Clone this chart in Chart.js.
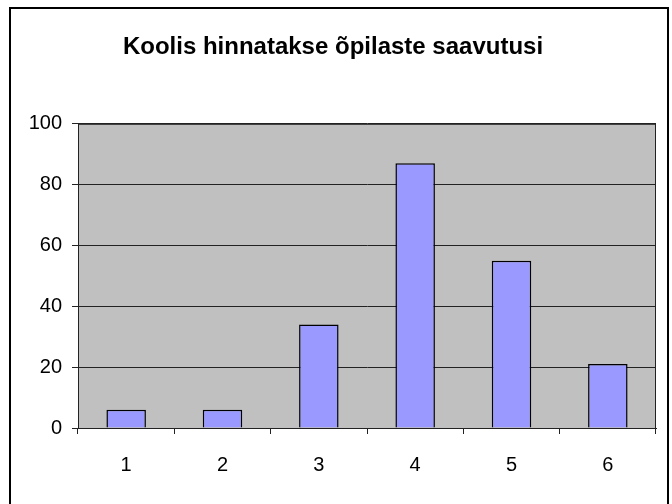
<!DOCTYPE html>
<html>
<head>
<meta charset="utf-8">
<script src="https://cdn.jsdelivr.net/npm/chart.js@4/dist/chart.umd.min.js"></script>
<style>
  html, body { margin: 0; padding: 0; background: #fff; }
  #wrap { width: 672px; height: 504px; }
</style>
</head>
<body>
<div id="wrap"><canvas id="chart"></canvas></div>
<script>
// data
const labels = ['1', '2', '3', '4', '5', '6'];
const values = [6, 6, 34, 87, 55, 21];
const yTicks = [0, 20, 40, 60, 80, 100];

const FONT = '"Liberation Sans", Arial, sans-serif';

// gray plot area, its border and the outer frame
const framePlugin = {
    id: 'frame',
    beforeDraw(chart) {
        const { ctx, chartArea: a } = chart;
        ctx.save();
        ctx.fillStyle = '#c0c0c0';
        ctx.fillRect(a.left, a.top, a.right - a.left, a.bottom - a.top);
        ctx.restore();
    },
    afterDraw(chart) {
        const { ctx, chartArea: a } = chart;
        ctx.save();
        ctx.strokeStyle = '#222';
        ctx.lineWidth = 1;
        ctx.strokeRect(a.left + 0.5, a.top + 0.5, a.right - a.left - 1, a.bottom - a.top);
        ctx.strokeStyle = '#000';
        ctx.lineWidth = 2;
        ctx.strokeRect(10, 8, 658, 520);
        ctx.restore();
    }
};

const ctx = document.getElementById('chart').getContext('2d');
new Chart(ctx, {
    type: 'bar',
    data: {
        labels: labels,
        datasets: [{
            data: values,
            backgroundColor: '#9999ff',
            borderColor: '#000',
            borderWidth: 1.5,
            barPercentage: 0.41,
            categoryPercentage: 1
        }]
    },
    options: {
        responsive: true,
        maintainAspectRatio: false,
        animation: false,
        layout: {
            padding: { left: 10, right: 16, top: 10, bottom: 16 }
        },
        scales: {
            x: {
                afterFit: function(scale) { scale.height = 60; },
                grid: {
                    drawOnChartArea: false,
                    color: '#222',
                    tickLength: 6
                },
                border: { color: '#222' },
                ticks: {
                    color: '#000',
                    padding: 19,
                    font: { family: FONT, size: 20 }
                }
            },
            y: {
                min: 0,
                max: 100,
                afterFit: function(scale) { scale.width = 68; },
                afterBuildTicks: function(scale) {
                    scale.ticks = yTicks.map(v => ({ value: v }));
                },
                grid: {
                    color: '#222',
                    tickLength: 6
                },
                border: { color: '#222' },
                ticks: {
                    color: '#000',
                    padding: 10,
                    font: { family: FONT, size: 20 }
                }
            }
        },
        plugins: {
            legend: { display: false },
            tooltip: { enabled: false },
            title: {
                display: true,
                text: 'Koolis hinnatakse õpilaste saavutusi',
                color: '#000',
                font: { family: FONT, size: 24, weight: 'bold' },
                padding: { top: 23, bottom: 62 }
            }
        }
    },
    plugins: [framePlugin]
});
</script>
</body>
</html>
